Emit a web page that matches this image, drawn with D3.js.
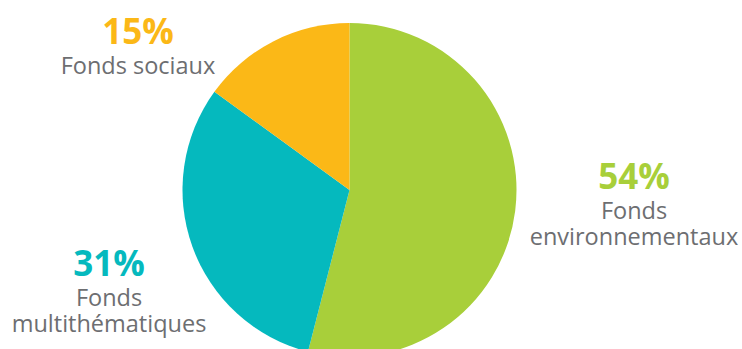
<!DOCTYPE html>
<html>
<head>
<meta charset="utf-8">
<script src="https://cdn.jsdelivr.net/npm/d3@7"></script>
<style>
  html, body { margin: 0; padding: 0; background: #fff; }
  svg { display: block; }
  text { font-family: "Open Sans", sans-serif; }
</style>
</head>
<body>
<svg id="chart"></svg>
<script>
const categories = ["Fonds environnementaux", "Fonds multithématiques", "Fonds sociaux"];
const shares = [54, 31, 15];
const colors = ["#a8cf3a", "#05b9be", "#fbb817"];
// label lines, split where the reference breaks them
const labelLines = [["Fonds", "environnementaux"], ["Fonds", "multithématiques"], ["Fonds sociaux"]];

const width = 742, height = 349;
const cx = 349.5, cy = 190, radius = 167;

const svg = d3.select("#chart")
    .attr("width", width)
    .attr("height", height);

const data = categories.map((c, i) => ({ name: c, value: shares[i], color: colors[i], lines: labelLines[i] }));

const pie = d3.pie()
    .value(d => d.value)
    .sort(null);

const arc = d3.arc()
    .innerRadius(0)
    .outerRadius(radius);

const arcs = pie(data);

const g = svg.append("g")
    .attr("transform", `translate(${cx},${cy})`);

g.selectAll("path")
    .data(arcs)
    .enter()
    .append("path")
    .attr("d", arc)
    .attr("fill", d => d.data.color);

// label anchors: percentage baseline position per slice
const labelPos = [[634, 189], [109, 276], [138, 44]];

const labels = svg.selectAll(".label")
    .data(arcs)
    .enter()
    .append("g")
    .attr("class", "label")
    .attr("transform", (d, i) => `translate(${labelPos[i][0]},${labelPos[i][1]})`);

labels.append("text")
    .attr("text-anchor", "middle")
    .attr("font-size", 35)
    .attr("font-weight", 700)
    .attr("fill", d => d.data.color)
    .text(d => d3.format(".0f")(d.data.value) + "%");

labels.each(function(d) {
    const sel = d3.select(this);
    d.data.lines.forEach((line, j) => {
        sel.append("text")
            .attr("text-anchor", "middle")
            .attr("font-size", 23.5)
            .attr("fill", "#6d6e71")
            .attr("y", 30 + j * 26)
            .text(line);
    });
});
</script>
</body>
</html>
